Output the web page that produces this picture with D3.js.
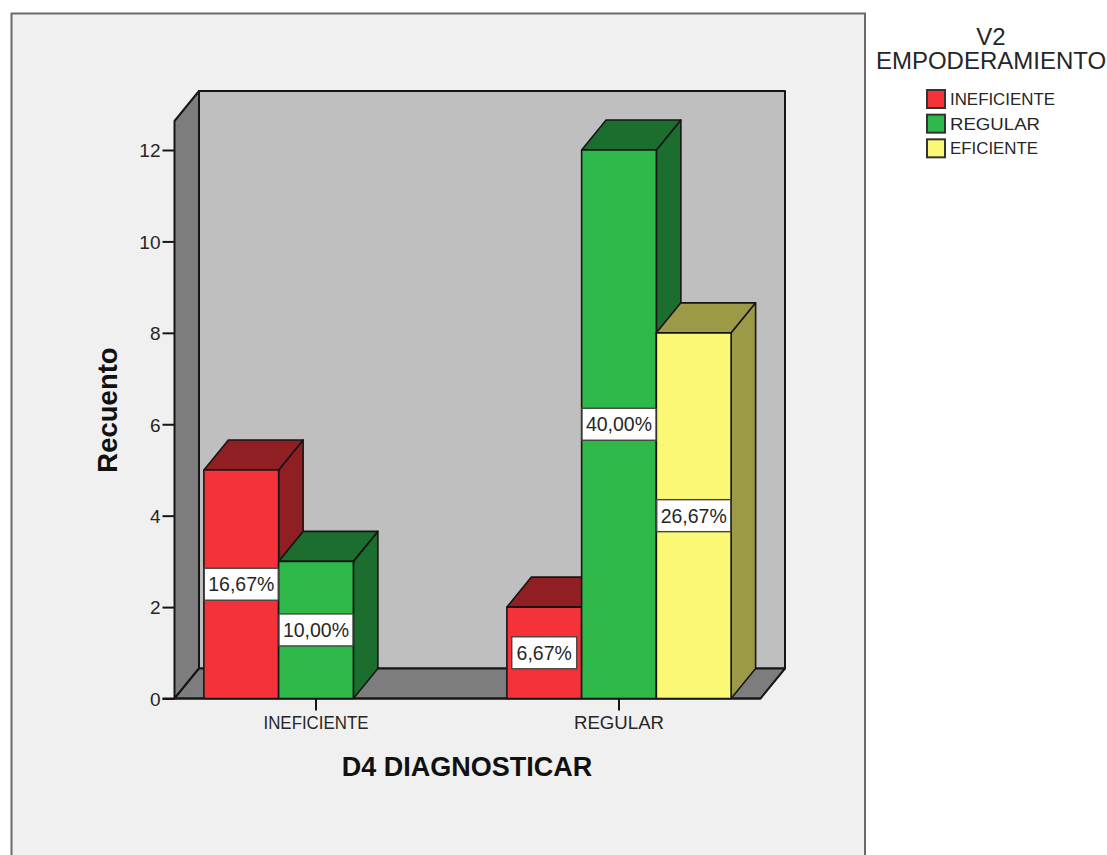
<!DOCTYPE html>
<html>
<head>
<meta charset="utf-8">
<script src="https://cdnjs.cloudflare.com/ajax/libs/d3/7.8.5/d3.min.js"></script>
<style>
html, body { margin: 0; padding: 0; background: #fff; }
svg { display: block; }
text { font-family: "Liberation Sans", Arial, sans-serif; fill: #262626; }
</style>
</head>
<body>
<svg id="chart" width="1107" height="855"></svg>
<script>
// Chart data
const categories = ["INEFICIENTE", "REGULAR"];
const seriesNames = ["INEFICIENTE", "REGULAR", "EFICIENTE"];
const ineficienteCounts = [5, 2];
const regularCounts = [3, 12];
const eficienteCounts = [null, 8];
const ineficienteLabels = ["16,67%", "6,67%"];
const regularLabels = ["10,00%", "40,00%"];
const eficienteLabels = [null, "26,67%"];
const yTicks = [0, 2, 4, 6, 8, 10, 12];

const seriesValues = [ineficienteCounts, regularCounts, eficienteCounts];
const seriesLabels = [ineficienteLabels, regularLabels, eficienteLabels];
const frontColors = ["#f53239", "#2eb84a", "#fbf875"];
const sideColors = ["#8f1f23", "#1c6e2e", "#9d9a47"];

const svg = d3.select("#chart");
const INK = "#161616";

// Depth of the oblique projection
const dx = 24.5, dy = -30;

// Scales
const y = d3.scaleLinear().domain([0, 12]).range([698.5, 150]);
const x0 = d3.scaleBand().domain(categories).range([164.5, 770.5])
  .paddingInner(0.26).paddingOuter(0.13);
const x1 = d3.scaleBand().domain(seriesNames).range([0, x0.bandwidth()]);

// Outer panel, cut off by the lower edge of the page
svg.append("path")
  .attr("d", "M11.5,857V13.5H865V857")
  .attr("fill", "#f0f0f0")
  .attr("stroke", "#6a6a6a")
  .attr("stroke-width", 2);

// Plot box: back wall, left wall and floor
const wallLeft = 174.5, wallRight = 760.5, wallBase = y(0), wallTop = 121;
const poly = (pts) => "M" + pts.map(p => p.join(",")).join("L") + "Z";
const walls = svg.append("g").attr("stroke", INK).attr("stroke-width", 2).attr("stroke-linejoin", "round");
walls.append("path")
  .attr("d", poly([[wallLeft + dx, wallTop + dy], [wallRight + dx, wallTop + dy], [wallRight + dx, wallBase + dy], [wallLeft + dx, wallBase + dy]]))
  .attr("fill", "#bfbfbf");
walls.append("path")
  .attr("d", poly([[wallLeft, wallTop], [wallLeft + dx, wallTop + dy], [wallLeft + dx, wallBase + dy], [wallLeft, wallBase]]))
  .attr("fill", "#7d7d7d");
walls.append("path")
  .attr("d", poly([[wallLeft, wallBase], [wallLeft + dx, wallBase + dy], [wallRight + dx, wallBase + dy], [wallRight, wallBase]]))
  .attr("fill", "#7d7d7d");

// Value axis
const yAxis = d3.axisLeft(y).tickValues(yTicks).tickSize(12).tickPadding(2).tickFormat(d3.format("d"));
const yAxisG = svg.append("g").attr("transform", `translate(${wallLeft},0)`).call(yAxis);
yAxisG.select(".domain").remove();
yAxisG.selectAll("line").attr("stroke", INK).attr("stroke-width", 2);
yAxisG.selectAll("text").attr("font-size", 19).attr("dy", "0.36em");

// Category axis; the wide glyph spacing of these labels is kept with fixed run lengths
const categoryWidths = [105, 90];
const xAxis = d3.axisBottom(x0).tickSize(12).tickPadding(6);
const xAxisG = svg.append("g").attr("transform", `translate(0,${y(0)})`).call(xAxis);
xAxisG.select(".domain").remove();
xAxisG.selectAll("line").attr("stroke", INK).attr("stroke-width", 2);
xAxisG.selectAll("text").attr("font-size", 17.5).attr("dy", "0.72em")
  .attr("textLength", (d, i) => categoryWidths[i]).attr("lengthAdjust", "spacingAndGlyphs");
svg.append("line")
  .attr("x1", wallLeft - 12).attr("x2", wallRight)
  .attr("y1", y(0)).attr("y2", y(0))
  .attr("stroke", INK).attr("stroke-width", 2);

// Bars, drawn left to right so that each front face covers its neighbour's side
const bars = [];
categories.forEach((cat, c) => {
  seriesNames.forEach((name, s) => {
    const value = seriesValues[s][c];
    if (value !== null) bars.push({ cat, name, s, value, label: seriesLabels[s][c] });
  });
});
const barG = svg.append("g").attr("stroke", INK).attr("stroke-width", 1.6).attr("stroke-linejoin", "round");
bars.forEach(b => {
  const l = x0(b.cat) + x1(b.name);
  const r = l + x1.bandwidth();
  const t = y(b.value), base = y(0);
  barG.append("path").attr("fill", sideColors[b.s])
    .attr("d", poly([[r, t], [r + dx, t + dy], [r + dx, base + dy], [r, base]]));
  barG.append("path").attr("fill", sideColors[b.s])
    .attr("d", poly([[l, t], [l + dx, t + dy], [r + dx, t + dy], [r, t]]));
  barG.append("rect").attr("fill", frontColors[b.s])
    .attr("x", l).attr("y", t).attr("width", r - l).attr("height", base - t);
});

// Percentage labels centred on each front face
bars.forEach(b => {
  const cx = x0(b.cat) + x1(b.name) + x1.bandwidth() / 2;
  const cy = y(b.value / 2);
  const w = b.label.length === 5 ? 65 : 74;
  svg.append("rect")
    .attr("x", cx - w / 2).attr("y", cy - 16).attr("width", w).attr("height", 32)
    .attr("fill", "#fff").attr("stroke", "#444").attr("stroke-width", 1.4);
  svg.append("text")
    .attr("x", cx).attr("y", cy).attr("dy", "0.36em")
    .attr("text-anchor", "middle").attr("font-size", 19.5).text(b.label);
});

// Axis titles
svg.append("text")
  .attr("transform", "translate(117,410) rotate(-90)")
  .attr("text-anchor", "middle").attr("font-size", 27.5).attr("font-weight", "bold").style("fill", "#111")
  .text("Recuento");
svg.append("text")
  .attr("x", 467).attr("y", 776)
  .attr("text-anchor", "middle").attr("font-size", 27).attr("font-weight", "bold").style("fill", "#111")
  .text("D4 DIAGNOSTICAR");

// Legend
svg.append("text").attr("x", 991).attr("y", 45).attr("text-anchor", "middle").attr("font-size", 24).text("V2");
svg.append("text").attr("x", 991).attr("y", 69).attr("text-anchor", "middle").attr("font-size", 24).text("EMPODERAMIENTO");
const legend = d3.scaleBand().domain(seriesNames).range([87, 161]);
const legendWidths = [105, 90, 88];
seriesNames.forEach((name, s) => {
  svg.append("rect")
    .attr("x", 927).attr("y", legend(name) + 3).attr("width", 18).attr("height", 18)
    .attr("fill", frontColors[s]).attr("stroke", "#333").attr("stroke-width", 2);
  svg.append("text")
    .attr("x", 950).attr("y", legend(name) + 12).attr("dy", "0.36em")
    .attr("font-size", 17).attr("textLength", legendWidths[s]).attr("lengthAdjust", "spacingAndGlyphs")
    .text(name);
});
</script>
</body>
</html>
